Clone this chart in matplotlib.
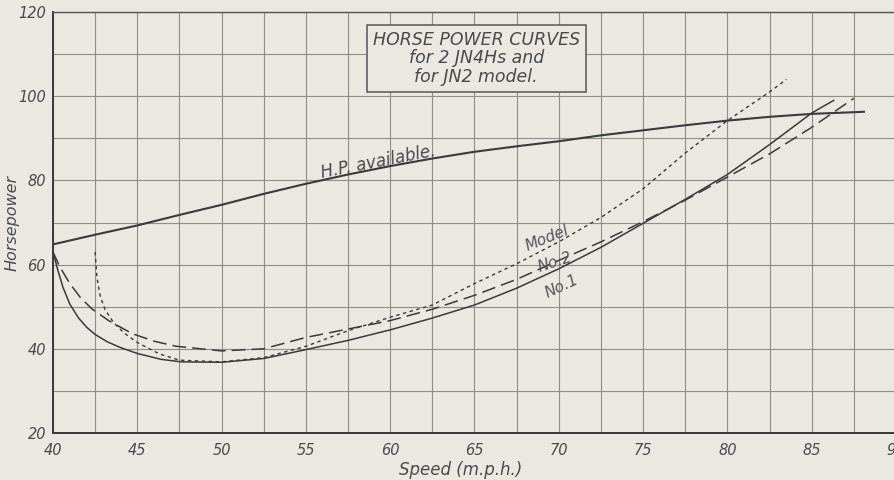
import matplotlib
matplotlib.use("Agg")
import matplotlib.pyplot as plt

# ---- data ----
hp_speed = [40, 42.5, 45, 47.5, 50, 52.5, 55, 57.5, 60, 62.5, 65, 67.5, 70,
            72.5, 75, 77.5, 80, 82.5, 85, 87.5, 88.1]
hp_avail = [64.8, 67.1, 69.3, 71.8, 74.2, 76.8, 79.2, 81.4, 83.4, 85.2, 86.8,
            88.1, 89.3, 90.7, 91.9, 93.1, 94.2, 95.1, 95.8, 96.2, 96.3]

no1_speed = [40.0, 40.3, 40.6, 41.0, 41.5, 42.0, 42.5, 43.2, 44.0, 45.0, 46.4,
             47.6, 50, 52.5, 55, 57.5, 60, 62.5, 65, 67.5, 70, 72.5, 75, 77.5,
             80, 82.5, 85, 86.3]
no1_hp = [63.0, 58.5, 54.5, 50.6, 47.4, 45.1, 43.4, 41.7, 40.3, 38.9, 37.5,
          36.9, 36.8, 37.7, 39.8, 42.0, 44.5, 47.3, 50.4, 54.4, 59.0, 64.1,
          69.8, 75.5, 81.4, 88.5, 96.0, 99.0]

no2_speed = [40.0, 40.4, 41.0, 41.6, 42.3, 43.3, 44.7, 46.0, 47.3, 50, 52.5,
             55, 57.5, 60, 62.5, 65, 67.5, 70, 72.5, 75, 77.5, 80, 82.5, 85,
             87.5]
no2_hp = [63.0, 59.5, 55.5, 52.3, 49.5, 46.7, 43.6, 41.8, 40.6, 39.5, 40.0,
          42.7, 44.7, 46.7, 49.4, 52.7, 56.5, 61.0, 65.4, 70.2, 75.3, 80.8,
          86.3, 92.6, 99.5]

model_speed = [42.5, 42.6, 42.8, 43.1, 43.6, 44.2, 45.0, 46.3, 47.5, 50, 52.5,
               55, 57.5, 60, 62.5, 65, 67.5, 70, 72.5, 75, 77.5, 80, 82.5, 83.5]
model_hp = [63.0, 57.0, 52.5, 49.2, 46.2, 43.8, 41.5, 38.8, 37.3, 36.9, 37.9,
            40.6, 44.3, 47.5, 50.4, 55.5, 60.2, 65.4, 71.2, 78.0, 86.5, 94.2,
            101.0, 104.0]

x_ticks = [40, 45, 50, 55, 60, 65, 70, 75, 80, 85, 90]
y_ticks = [20, 40, 60, 80, 100, 120]

title_lines = ["HORSE POWER CURVES", "for 2 JN4Hs and", "for JN2 model."]

# ---- styling ----
paper = "#ebe8e2"
ink = "#3a3a3a"
text_c = "#4a4a4a"
grid_c = "#85857f"

fig = plt.figure(figsize=(8.95, 4.8), dpi=100, facecolor=paper)
ax = fig.add_axes([53 / 895, 47 / 480, 843 / 895, 421 / 480])
ax.set_facecolor(paper)

ax.set_xlim(40, 90)
ax.set_ylim(20, 120)
ax.set_xticks(x_ticks)
ax.set_xticks([v + 2.5 for v in x_ticks[:-1]], minor=True)
ax.set_yticks(y_ticks)
ax.set_yticks([v + 10 for v in y_ticks[:-1]], minor=True)
ax.grid(True, which="both", color=grid_c, lw=0.8, alpha=0.9)
ax.set_axisbelow(True)
ax.set_xticklabels([str(v) for v in x_ticks], fontstyle="italic", fontsize=10.5,
                   color=text_c)
ax.set_yticklabels([str(v) for v in y_ticks], fontstyle="italic", fontsize=10.5,
                   color=text_c)
ax.tick_params(which="both", length=0)
ax.tick_params(axis="x", pad=7)
ax.tick_params(axis="y", pad=5)

for s in ["left", "bottom"]:
    ax.spines[s].set_color(ink)
    ax.spines[s].set_linewidth(1.4)
ax.spines["top"].set_color("#555555")
ax.spines["top"].set_linewidth(1.0)
ax.spines["right"].set_visible(False)

ax.plot(hp_speed, hp_avail, color=ink, lw=1.5)
ax.plot(no1_speed, no1_hp, color=ink, lw=1.1)
ax.plot(no2_speed, no2_hp, color=ink, lw=1.1, dashes=(9, 4))
ax.plot(model_speed, model_hp, color=ink, lw=1.0, dashes=(2.5, 2.5))

# labels on curves
ax.text(59.3, 84.4, "H.P. available.", rotation=11, fontstyle="italic",
        fontsize=12, color=text_c, ha="center", va="center")
ax.text(69.3, 66.3, "Model", rotation=22, fontstyle="italic", fontsize=11,
        color="#555555", ha="center", va="center")
ax.text(69.8, 60.6, "No.2", rotation=18, fontstyle="italic", fontsize=11,
        color="#555555", ha="center", va="center")
ax.text(70.2, 54.9, "No.1", rotation=25, fontstyle="italic", fontsize=11,
        color="#555555", ha="center", va="center")

# title box
ax.text(65.1, 109.0, "\n".join(title_lines), fontstyle="italic", fontsize=12.5,
        color=text_c, ha="center", va="center", linespacing=1.05,
        bbox=dict(boxstyle="square,pad=0.35", fc=paper, ec="#555555", lw=1.1))

ax.set_ylabel("Horsepower", fontstyle="italic", fontsize=11.5, color=text_c)
ax.yaxis.set_label_coords(-0.04, 0.5)
ax.set_xlabel("Speed (m.p.h.)", fontstyle="italic", fontsize=12,
              color=text_c)
ax.xaxis.set_label_coords(0.483, -0.066)

fig.savefig("out.png", dpi=100, facecolor=paper)
